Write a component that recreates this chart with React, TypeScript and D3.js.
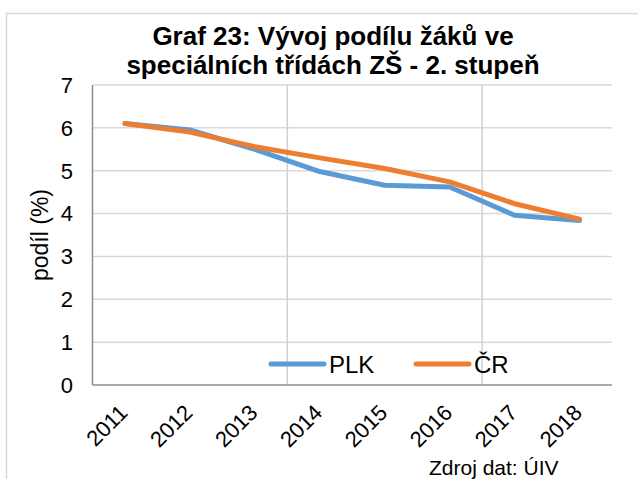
import * as d3 from "d3";
import React from "react";

const years = ["2011", "2012", "2013", "2014", "2015", "2016", "2017", "2018"];
const plkValues = [6.1, 5.95, 5.5, 4.98, 4.66, 4.62, 3.96, 3.84];
const crValues = [6.1, 5.9, 5.56, 5.3, 5.05, 4.74, 4.23, 3.87];
const yTicks = [0, 1, 2, 3, 4, 5, 6, 7];
const titleLines = ["Graf 23: Vývoj podílu žáků ve", "speciálních třídách ZŠ - 2. stupeň"];

const W = 638;
const H = 479;
const FONT = "'Liberation Sans', Arial, sans-serif";

const App = () => {
    const margin = { top: 85, right: 26, bottom: 94, left: 92.5 };

    const xScale = d3.scaleBand<string>()
        .domain(years)
        .range([margin.left, W - margin.right]);

    const yScale = d3.scaleLinear()
        .domain([0, 7])
        .range([H - margin.bottom, margin.top]);

    const cx = (d: string) => (xScale(d) ?? 0) + xScale.bandwidth() / 2;

    const line = d3.line<number>()
        .x((_, i) => cx(years[i]))
        .y(d => yScale(d));

    const series = [
        { name: "PLK", values: plkValues, color: "#5B9BD5" },
        { name: "ČR", values: crValues, color: "#ED7D31" },
    ];

    const x0 = margin.left;
    const x1 = W - margin.right;
    const yBottom = yScale(0);
    const yTop = yScale(7);

    // vertical gridlines every 3 categories, like the original
    const vGrid = [3, 6].map(i => (xScale(years[i]) ?? 0));

    const legendY = 364;
    const legendItems = [
        { ...series[0], x: 271 },
        { ...series[1], x: 416 },
    ];

    return (
        <div style={{ position: "absolute", left: 0, top: 0 }}>
            <svg width={W} height={H} style={{ display: "block", background: "#fff" }} fontFamily={FONT}>
                {/* chart border */}
                <rect x={6.5} y={13.5} width={W} height={H} fill="none" stroke="#d9d9d9" strokeWidth={1.5} />

                {/* title */}
                {titleLines.map((t, i) => (
                    <text key={t} x={333} y={45 + i * 28.5} textAnchor="middle" fontSize={26} fontWeight="bold" fill="#000">
                        {t}
                    </text>
                ))}

                {/* horizontal gridlines */}
                {yTicks.filter(v => v > 0).map(v => (
                    <line key={v} x1={x0} x2={x1} y1={yScale(v)} y2={yScale(v)} stroke="#d9d9d9" strokeWidth={1.5} />
                ))}
                {vGrid.map((x, i) => (
                    <line key={i} x1={x} x2={x} y1={yTop} y2={yBottom} stroke="#d0d0d0" strokeWidth={1.5} />
                ))}

                {/* axes */}
                <line x1={x0} x2={x0} y1={yTop} y2={yBottom} stroke="#8c8c8c" strokeWidth={1.5} />
                <line x1={x0} x2={x1} y1={yBottom} y2={yBottom} stroke="#8c8c8c" strokeWidth={1.5} />

                {/* y tick labels */}
                {yTicks.map(v => (
                    <text key={v} x={73} y={yScale(v)} dy="0.36em" textAnchor="end" fontSize={22} fill="#000">
                        {v}
                    </text>
                ))}

                {/* y axis title */}
                <text transform={`translate(48,235) rotate(-90)`} textAnchor="middle" fontSize={23} fill="#000">
                    podíl (%)
                </text>

                {/* x tick labels */}
                {years.map(y => (
                    <text key={y} transform={`translate(${cx(y) + 4},414) rotate(-45)`} textAnchor="end" fontSize={22} fill="#000">
                        {y}
                    </text>
                ))}

                {/* series lines */}
                {series.map(s => (
                    <path key={s.name} d={line(s.values) ?? ""} fill="none" stroke={s.color} strokeWidth={5}
                        strokeLinecap="round" strokeLinejoin="round" />
                ))}

                {/* legend */}
                {legendItems.map(item => (
                    <g key={item.name}>
                        <line x1={item.x} x2={item.x + 53} y1={legendY} y2={legendY} stroke={item.color} strokeWidth={5} strokeLinecap="round" />
                        <text x={item.x + 58} y={legendY + 8.5} fontSize={24} fill="#000">{item.name}</text>
                    </g>
                ))}

                {/* source */}
                <text x={429} y={475} fontSize={21} fill="#000">Zdroj dat: ÚIV</text>
            </svg>
        </div>
    );
};

export default App;
